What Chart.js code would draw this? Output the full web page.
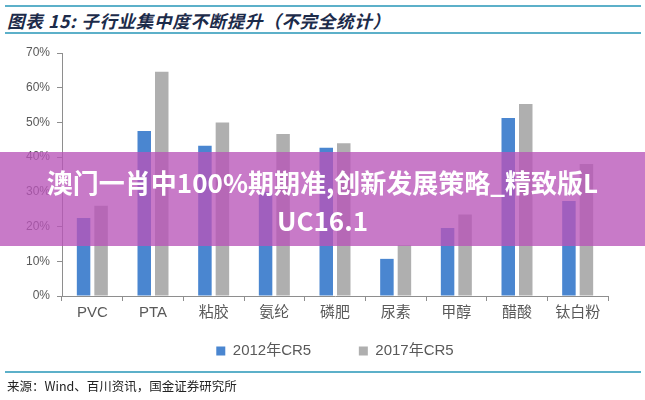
<!DOCTYPE html>
<html lang="zh-CN">
<head>
  <meta charset="UTF-8">
  <title>子行业集中度不断提升</title>
  <script src="https://cdn.jsdelivr.net/npm/chart.js@4.4.0/dist/chart.umd.min.js"></script>
  <style>
    html, body { margin: 0; padding: 0; background: #fff; }
    #wrap { position: relative; width: 645px; height: 400px; overflow: hidden; }
    #chartBox { position: absolute; left: 0; top: 0; width: 645px; height: 400px; }
    .rule { position: absolute; left: 5px; width: 636px; height: 2px; background: #5cb0c9; }
    #title { position: absolute; left: 7px; top: 8px; line-height: 22px; white-space: nowrap; letter-spacing: 0.7px;
      font: italic bold 17.5px 'Noto Sans CJK SC', sans-serif; color: #1c2b4a; }
    #source { position: absolute; left: 7px; top: 376px; line-height: 16px; white-space: nowrap;
      font: 12.5px 'Noto Sans CJK SC', sans-serif; color: #222; }
    #banner { position: absolute; left: 0; top: 152px; width: 645px; height: 94px; box-sizing: border-box;
      padding-top: 11px; background: rgba(185, 85, 185, 0.78); color: #fff; text-align: center;
      font: bold 26px 'Noto Sans CJK SC', sans-serif; line-height: 38px; }
  </style>
</head>

<body>
  <div id="wrap">
    <div class="rule" style="top:5px"></div>
    <div id="title">图表 15: 子行业集中度不断提升（不完全统计）</div>
    <div class="rule" style="top:32px"></div>
    <div id="chartBox"><canvas id="myChart"></canvas></div>
    <div class="rule" style="top:371px"></div>
    <div id="source">来源：Wind、百川资讯，国金证券研究所</div>
    <div id="banner">澳门一肖中100%期期准,创新发展策略_精致版L<br>UC16.1</div>
  </div>

  <script>
    // 子行业
    const categories = ['PVC', 'PTA', '粘胶', '氨纶', '磷肥', '尿素', '甲醇', '醋酸', '钛白粉'];
    // CR5 (%)
    const cr5_2012 = [22.5, 47.5, 43.3, 30, 42.7, 10.7, 19.6, 51.3, 27.4];
    const cr5_2017 = [26, 64.6, 50, 46.7, 44, 14.6, 23.5, 55.3, 38];
    const seriesNames = ['2012年CR5', '2017年CR5'];
    const yTicks = [0, 10, 20, 30, 40, 50, 60, 70];

    const fontFamily = "'Liberation Sans', 'Noto Sans CJK SC', sans-serif";
    const axisColor = '#8e8e8e';

    const ctx = document.getElementById('myChart').getContext('2d');
    const myChart = new Chart(ctx, {
      type: 'bar',
      data: {
        labels: categories,
        datasets: [{
          label: seriesNames[0],
          data: cr5_2012,
          backgroundColor: '#4a86d0'
        }, {
          label: seriesNames[1],
          data: cr5_2017,
          backgroundColor: '#afafaf'
        }]
      },
      options: {
        responsive: true,
        maintainAspectRatio: false,
        animation: false,
        categoryPercentage: 0.577,
        barPercentage: 0.771,
        layout: { padding: { top: 53, right: 37, bottom: 31.5, left: 22 } },
        plugins: {
          tooltip: { enabled: false },
          legend: {
            position: 'bottom',
            fullSize: false,
            labels: {
              boxWidth: 9,
              boxHeight: 9,
              padding: 18.5,
              color: '#595959',
              font: { family: fontFamily, size: 15 },
              // 两个图例之间留出与原图相同的间距
              generateLabels: function (chart) {
                const items = Chart.defaults.plugins.legend.labels.generateLabels(chart);
                items[0].text += '       ';
                return items;
              }
            }
          }
        },
        scales: {
          x: {
            grid: { drawOnChartArea: false, offset: true, tickLength: 5, color: axisColor },
            border: { color: axisColor },
            ticks: { padding: 3, color: '#595959', font: { family: fontFamily, size: 15 } }
          },
          y: {
            min: 0,
            max: 70,
            afterFit: function (scale) { scale.width = 40; },
            afterBuildTicks: function (scale) { scale.ticks = yTicks.map(v => ({ value: v })); },
            grid: { drawOnChartArea: false, tickLength: 5, color: axisColor },
            border: { color: axisColor },
            ticks: {
              padding: 7,
              color: '#595959',
              font: { family: fontFamily, size: 12 },
              callback: v => v + '%'
            }
          }
        }
      }
    });
  </script>
</body>

</html>
